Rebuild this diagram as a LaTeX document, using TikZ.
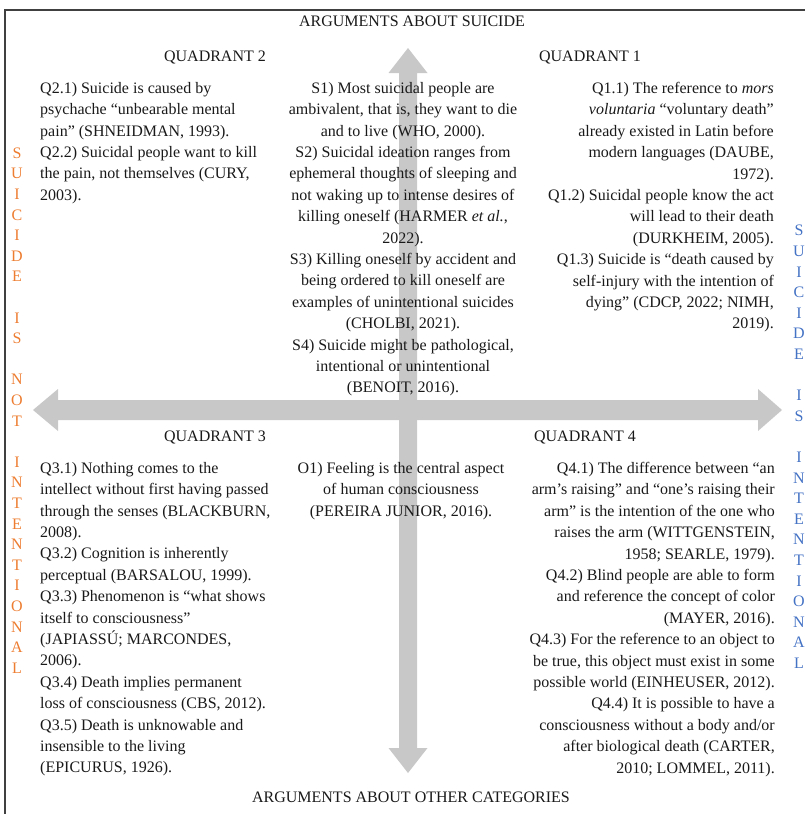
\documentclass[tikz,border=0pt]{standalone}
\usepackage{fontspec}
\setmainfont{Liberation Serif}
\usepackage{tikz}

\definecolor{axisgray}{RGB}{200,200,200}
\definecolor{notorange}{RGB}{237,125,49}
\definecolor{isblue}{RGB}{68,114,196}

\tikzset{
  heading/.style={font=\fontsize{16}{19}\selectfont, inner sep=0pt, text=black!90},
  claims/.style={font=\fontsize{16}{21.4}\selectfont, inner sep=0pt, text=black!90},
  sideword/.style={font=\fontsize{16}{20.6}\selectfont, align=center, inner sep=0pt},
}

\begin{document}
\begin{tikzpicture}[x=1pt,y=-1pt]
\useasboundingbox (0,0) rectangle (804,814);
% frame
\draw[line width=1.5pt, black!75] (5,816) -- (5,10) -- (806,10);

% the two axes
\fill[axisgray] (408,48) -- (427.5,73) -- (417,73) -- (417,748) -- (427.5,748)
  -- (408,773) -- (388.5,748) -- (399,748) -- (399,73) -- (388.5,73) -- cycle;
\fill[axisgray] (33,410) -- (58,389) -- (58,400) -- (758,400) -- (758,389)
  -- (782,410) -- (758,431) -- (758,420) -- (58,420) -- (58,431) -- cycle;

% axis captions
\node[heading] (suicide) at (412,21) {ARGUMENTS ABOUT SUICIDE};
\node[heading] (other) at (411,797) {ARGUMENTS ABOUT OTHER CATEGORIES};
\node[sideword, text=notorange, anchor=north] (notint) at (17,147.5)
  {S\\U\\I\\C\\I\\D\\E\\[20.6pt]I\\S\\[20.6pt]N\\O\\T\\[20.6pt]I\\N\\T\\E\\N\\T\\I\\O\\N\\A\\L};
\node[sideword, text=isblue, anchor=north] (isint) at (799,225)
  {S\\U\\I\\C\\I\\D\\E\\[20.6pt]I\\S\\[20.6pt]I\\N\\T\\E\\N\\T\\I\\O\\N\\A\\L};

% quadrant titles
\node[heading] (quad2) at (215,57) {QUADRANT 2};
\node[heading] (quad1) at (590,57) {QUADRANT 1};
\node[heading] (quad3) at (215,437) {QUADRANT 3};
\node[heading] (quad4) at (585,437) {QUADRANT 4};

% upper half
\node[claims, anchor=north west, align=left] (q2list) at (40,82)
  {Q2.1) Suicide is caused by\\
   psychache “unbearable mental\\
   pain” (SHNEIDMAN, 1993).\\
   Q2.2) Suicidal people want to kill\\
   the pain, not themselves (CURY,\\
   2003).};
\node[claims, anchor=north, align=center] (slist) at (403,82)
  {S1) Most suicidal people are\\
   ambivalent, that is, they want to die\\
   and to live (WHO, 2000).\\
   S2) Suicidal ideation ranges from\\
   ephemeral thoughts of sleeping and\\
   not waking up to intense desires of\\
   killing oneself (HARMER \textit{et al.},\\
   2022).\\
   S3) Killing oneself by accident and\\
   being ordered to kill oneself are\\
   examples of unintentional suicides\\
   (CHOLBI, 2021).\\
   S4) Suicide might be pathological,\\
   intentional or unintentional\\
   (BENOIT, 2016).};
\node[claims, anchor=north east, align=right] (q1list) at (774,82)
  {Q1.1) The reference to \textit{mors}\\
   \textit{voluntaria} “voluntary death”\\
   already existed in Latin before\\
   modern languages (DAUBE,\\
   1972).\\
   Q1.2) Suicidal people know the act\\
   will lead to their death\\
   (DURKHEIM, 2005).\\
   Q1.3) Suicide is “death caused by\\
   self-injury with the intention of\\
   dying” (CDCP, 2022; NIMH,\\
   2019).};

% lower half
\node[claims, anchor=north west, align=left] (q3list) at (40,462)
  {Q3.1) Nothing comes to the\\
   intellect without first having passed\\
   through the senses (BLACKBURN,\\
   2008).\\
   Q3.2) Cognition is inherently\\
   perceptual (BARSALOU, 1999).\\
   Q3.3) Phenomenon is “what shows\\
   itself to consciousness”\\
   (JAPIASSÚ; MARCONDES,\\
   2006).\\
   Q3.4) Death implies permanent\\
   loss of consciousness (CBS, 2012).\\
   Q3.5) Death is unknowable and\\
   insensible to the living\\
   (EPICURUS, 1926).};
\node[claims, anchor=north, align=center] (olist) at (401,462)
  {O1) Feeling is the central aspect\\
   of human consciousness\\
   (PEREIRA JUNIOR, 2016).};
\node[claims, anchor=north east, align=right] (q4list) at (775,462)
  {Q4.1) The difference between “an\\
   arm’s raising” and “one’s raising their\\
   arm” is the intention of the one who\\
   raises the arm (WITTGENSTEIN,\\
   1958; SEARLE, 1979).\\
   Q4.2) Blind people are able to form\\
   and reference the concept of color\\
   (MAYER, 2016).\\
   Q4.3) For the reference to an object to\\
   be true, this object must exist in some\\
   possible world (EINHEUSER, 2012).\\
   Q4.4) It is possible to have a\\
   consciousness without a body and/or\\
   after biological death (CARTER,\\
   2010; LOMMEL, 2011).};
\end{tikzpicture}
\end{document}
